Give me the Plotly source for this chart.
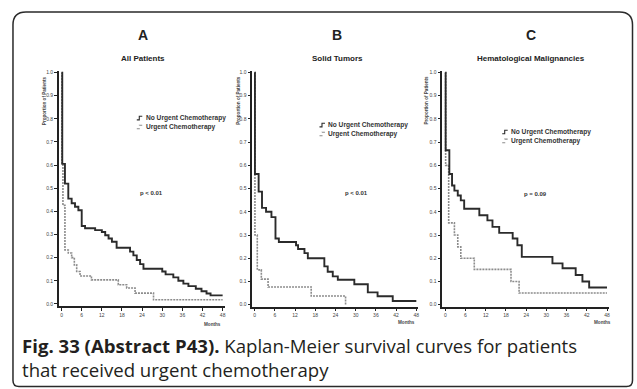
import plotly.graph_objects as go

W, H = 637, 389

# ---- data (months, survival proportion after each step) ----
month_ticks = [0, 6, 12, 18, 24, 30, 36, 42, 48]
prop_ticks = [0.0, 0.1, 0.2, 0.3, 0.4, 0.5, 0.6, 0.7, 0.8, 0.9, 1.0]

a_no_t = [0, 0.2, 1, 2, 3, 4, 5, 6, 7, 10, 12, 13, 14, 15, 16.4, 20.4, 21.4, 22.4,
          23.4, 24.4, 30, 31, 33.3, 34.8, 36.3, 37.8, 40, 41.7, 43.2, 44.4, 48]
a_no_s = [1.0, 0.605, 0.52, 0.455, 0.435, 0.42, 0.405, 0.337, 0.327, 0.319, 0.311,
          0.297, 0.283, 0.269, 0.243, 0.226, 0.21, 0.19, 0.172, 0.152, 0.14, 0.128,
          0.115, 0.1, 0.088, 0.077, 0.066, 0.055, 0.045, 0.037, 0.037]
a_urg_t = [0, 0.1, 0.4, 1.0, 2.0, 3.0, 3.8, 4.5, 5.5, 8.9, 16.9, 19.4, 21.9, 27.4, 48]
a_urg_s = [1.0, 0.6, 0.426, 0.233, 0.22, 0.2, 0.169, 0.14, 0.121, 0.104, 0.083,
           0.069, 0.047, 0.018, 0.018]

b_no_t = [0, 0.1, 1.2, 2.2, 3.4, 5.0, 6.2, 7.2, 12.3, 12.9, 14.8, 15.8, 20.7, 21.7,
          23.2, 24.7, 29.6, 33.6, 36.5, 41, 48]
b_no_s = [1.0, 0.563, 0.487, 0.417, 0.40, 0.377, 0.285, 0.27, 0.256, 0.24, 0.222,
          0.2, 0.165, 0.142, 0.122, 0.107, 0.088, 0.053, 0.036, 0.016, 0.016]
b_urg_t = [0, 0.1, 0.8, 2.0, 4.0, 16.8, 27.0]
b_urg_s = [1.0, 0.3, 0.15, 0.11, 0.076, 0.037, 0.0]

c_no_t = [0, 0.1, 1.2, 2.0, 2.7, 3.7, 4.6, 5.6, 10.1, 12.5, 14.0, 16.0, 20.0, 21.4,
          22.7, 31.8, 34.8, 38.7, 40.7, 42.7, 48]
c_no_s = [1.0, 0.665, 0.563, 0.513, 0.491, 0.47, 0.449, 0.413, 0.385, 0.363, 0.335,
          0.309, 0.285, 0.256, 0.206, 0.178, 0.157, 0.128, 0.10, 0.074, 0.074]
c_urg_t = [0, 0.1, 1.0, 2.7, 3.7, 4.6, 8.6, 19.5, 21.9, 48]
c_urg_s = [1.0, 0.6, 0.352, 0.30, 0.249, 0.20, 0.152, 0.10, 0.05, 0.05]

panel_letters = ["A", "B", "C"]
panel_titles = ["All Patients", "Solid Tumors", "Hematological Malignancies"]
p_values = ["p < 0.01", "p < 0.01", "p = 0.09"]
series_names = ["No Urgent Chemotherapy", "Urgent Chemotherapy"]
y_title = "Proportion of Patients"
x_title = "Months"
caption_bold = "Fig. 33 (Abstract P43)."
caption_rest = " Kaplan-Meier survival curves for patients"
caption_line2 = "that received urgent chemotherapy"

curves = [
    (a_no_t, a_no_s, a_urg_t, a_urg_s),
    (b_no_t, b_no_s, b_urg_t, b_urg_s),
    (c_no_t, c_no_s, c_urg_t, c_urg_s),
]


def px(x):
    return x / W


def py(y):
    return 1 - y / H


# pixel layout of each panel
panels = [
    dict(xdom=(59, 225), xr=(-0.80, 48.6), ydom=(70, 306.5), yr=(-0.0094, 1.0043),
         title_x=143, ylab_x=44, months_x=213, months_y=325, p_x=152, p_y=192,
         leg_x=137, leg_y=(117, 126)),
    dict(xdom=(252.7, 419), xr=(-0.68, 48.6), ydom=(70, 307), yr=(-0.0085, 1.0043),
         title_x=338, ylab_x=239, months_x=407, months_y=323, p_x=357, p_y=192,
         leg_x=320, leg_y=(124, 133)),
    dict(xdom=(443, 610), xr=(-0.89, 48.6), ydom=(70, 307), yr=(-0.0085, 1.0043),
         title_x=532, ylab_x=427, months_x=603, months_y=323, p_x=536, p_y=193,
         leg_x=503, leg_y=(131, 140)),
]

SOLID = "#2b2b2b"
DOT = "#8c8c8c"
FONT = "Liberation Sans"
CAP_FONT = "Open Sans"
CAP_COLOR = "#231f20"

fig = go.Figure()
layout = {}
annotations = []
shapes = []

for i, (pan, (nt, ns, ut, us)) in enumerate(zip(panels, curves)):
    sfx = "" if i == 0 else str(i + 1)
    xa, ya = "x" + sfx, "y" + sfx
    fig.add_trace(go.Scatter(x=ut, y=us, mode="lines", name=series_names[1],
                             line=dict(shape="hv", color=DOT, width=1.6, dash="2px,1px"),
                             xaxis=xa, yaxis=ya, showlegend=False, hoverinfo="skip"))
    fig.add_trace(go.Scatter(x=nt, y=ns, mode="lines", name=series_names[0],
                             line=dict(shape="hv", color=SOLID, width=1.9),
                             xaxis=xa, yaxis=ya, showlegend=False, hoverinfo="skip"))
    axis_common = dict(showline=True, linecolor="#222", linewidth=1.5, ticks="outside",
                       ticklen=3, tickwidth=1, tickcolor="#222", showgrid=False,
                       zeroline=False, fixedrange=True,
                       tickfont=dict(family=FONT, size=5, color="#444"))
    layout["xaxis" + sfx] = dict(domain=[px(pan["xdom"][0]), px(pan["xdom"][1])],
                                 range=list(pan["xr"]), anchor=ya, tickvals=month_ticks,
                                 **axis_common)
    layout["yaxis" + sfx] = dict(domain=[py(pan["ydom"][1]), py(pan["ydom"][0])],
                                 range=list(pan["yr"]), anchor=xa, tickvals=prop_ticks,
                                 tickformat=".1f", **axis_common)

    # titles
    annotations.append(dict(x=px(pan["title_x"]), y=py(33), text="<b>%s</b>" % panel_letters[i],
                            font=dict(family=FONT, size=14, color="#222")))
    annotations.append(dict(x=px(pan["title_x"]), y=py(57), text="<b>%s</b>" % panel_titles[i],
                            font=dict(family=FONT, size=8, color="#222")))
    # axis titles
    annotations.append(dict(x=px(pan["ylab_x"]), y=py(99), text="<b>%s</b>" % y_title,
                            textangle=-90, font=dict(family=FONT, size=4.6, color="#444")))
    annotations.append(dict(x=px(pan["months_x"]), y=py(pan["months_y"]),
                            text="<b>%s</b>" % x_title,
                            font=dict(family=FONT, size=4.6, color="#444")))
    # p value
    annotations.append(dict(x=px(pan["p_x"]), y=py(pan["p_y"]), text="<b>%s</b>" % p_values[i],
                            font=dict(family=FONT, size=6, color="#333")))
    # legend entries
    for k, (name, col, dash) in enumerate([(series_names[0], SOLID, "solid"),
                                           (series_names[1], DOT, "dot")]):
        ly = pan["leg_y"][k]
        lx = pan["leg_x"]
        shapes.append(dict(type="path", xref="paper", yref="paper",
                           path="M %f %f L %f %f L %f %f L %f %f" % (
                               px(lx), py(ly + 1.8), px(lx + 2.5), py(ly + 1.8),
                               px(lx + 2.5), py(ly - 1.8), px(lx + 5.5), py(ly - 1.8)),
                           line=dict(color=col, width=1.1, dash=dash)))
        annotations.append(dict(x=px(lx + 7), y=py(ly), xanchor="left",
                                text="<b>%s</b>" % name,
                                font=dict(family=FONT, size=6.6, color="#333")))

for a in annotations:
    a.setdefault("xref", "paper")
    a.setdefault("yref", "paper")
    a.setdefault("showarrow", False)
    a.setdefault("xanchor", "center")
    a.setdefault("yanchor", "middle")

# caption: bold label followed by the description, over two lines
annotations.append(dict(xref="paper", yref="paper", x=px(20), y=py(358),
                        xanchor="left", yanchor="middle", align="left", showarrow=False,
                        text="<b>%s</b>%s<br>%s" % (caption_bold, caption_rest, caption_line2),
                        font=dict(family=CAP_FONT, size=18.6, color=CAP_COLOR)))

# rounded frame around the figure
x0, x1, y0, y1, r, rb = 13, 633.5, 10, 387.5, 13, 6
frame = ("M %f %f L %f %f Q %f %f %f %f L %f %f Q %f %f %f %f L %f %f "
         "Q %f %f %f %f L %f %f Q %f %f %f %f Z") % (
    px(x0 + r), py(y0), px(x1 - r), py(y0), px(x1), py(y0), px(x1), py(y0 + r),
    px(x1), py(y1 - rb), px(x1), py(y1), px(x1 - rb), py(y1),
    px(x0 + rb), py(y1), px(x0), py(y1), px(x0), py(y1 - rb),
    px(x0), py(y0 + r), px(x0), py(y0), px(x0 + r), py(y0))
shapes.append(dict(type="path", xref="paper", yref="paper", path=frame,
                   line=dict(color="#2a2a2a", width=1.5)))

fig.update_layout(width=W, height=H, margin=dict(l=0, r=0, t=0, b=0),
                  paper_bgcolor="white", plot_bgcolor="white", showlegend=False,
                  annotations=annotations, shapes=shapes, **layout)

fig.write_html("out.html", config=dict(displayModeBar=False))
